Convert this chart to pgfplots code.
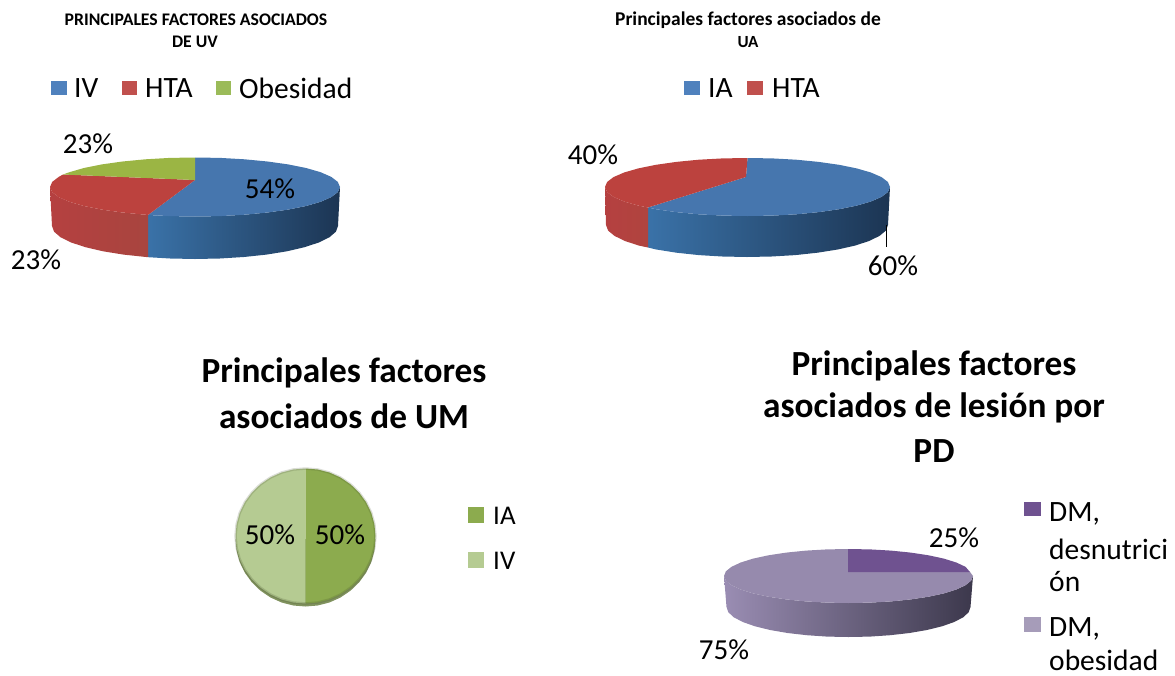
\documentclass[border=0pt]{standalone}
\usepackage{pgfplots}
\pgfplotsset{compat=1.18}
\usepackage{fontspec}
\setmainfont{Carlito}
\definecolor{bluetop}{HTML}{4676AE}
\definecolor{redtop}{HTML}{BC423E}
\definecolor{greentop}{HTML}{9BB544}
\definecolor{legblue}{HTML}{4F81BD}
\definecolor{legred}{HTML}{C0504D}
\definecolor{leggreen}{HTML}{9BBB59}
\definecolor{olive}{HTML}{8CAB4E}
\definecolor{lolive}{HTML}{B5CB92}
\definecolor{purp}{HTML}{6F5290}
\definecolor{lpurp}{HTML}{968AAD}
\definecolor{sideA}{HTML}{3A72A8}
\definecolor{sideB}{HTML}{34598A}
\definecolor{sideC}{HTML}{1C3553}
\definecolor{redA}{HTML}{B54040}
\definecolor{redB}{HTML}{A8453F}
\definecolor{redC}{HTML}{B0443F}
\definecolor{pA}{HTML}{9A8DB3}
\definecolor{pB}{HTML}{7A6F92}
\definecolor{pC}{HTML}{3C384C}
\newcommand{\fs}[1]{\fontsize{#1}{#1}\selectfont}
\begin{document}
\begin{tikzpicture}
\begin{axis}[
  width=1175pt,height=675pt,scale only axis,hide axis,
  xmin=0,xmax=1175,ymin=0,ymax=675,y dir=reverse,clip=false]
\addplot[draw=none] coordinates {(0,0)(1175,675)};
% ---- Pie 1 (UV): 54 / 23 / 23
\addplot[draw=none,left color=sideA,middle color=sideB,right color=sideC] coordinates {(148,215)(169.8,216.1)(195,216.5)(220.2,216.1)(244.6,214.7)(267.5,212.5)(288.2,209.6)(306.1,206)(320.6,201.8)(331.3,197.1)(337.8,192.1)(340,187)(338,226)(335.9,231.7)(329.4,237.3)(318.8,242.5)(304.5,247.2)(286.9,251.3)(266.5,254.6)(243.9,257)(219.9,258.5)(195,259)(170.1,258.5)(148,257.2)};
\addplot[draw=none,left color=redA,right color=redB] coordinates {(148,215)(145.4,214.7)(122.5,212.5)(101.8,209.6)(83.9,206)(69.4,201.8)(58.7,197.1)(52.2,192.1)(50,187)(52,226)(54.1,231.7)(60.6,237.3)(71.2,242.5)(85.5,247.2)(103.1,251.3)(123.5,254.6)(146.1,257)(148,257.2)};
\addplot[draw=none,fill=bluetop] coordinates {(195,180)(195,157.5)(220.2,157.9)(244.6,159.3)(267.5,161.5)(288.2,164.4)(306.1,168)(320.6,172.2)(331.3,176.9)(337.8,181.9)(340,187)(337.8,192.1)(331.3,197.1)(320.6,201.8)(306.1,206)(288.2,209.6)(267.5,212.5)(244.6,214.7)(220.2,216.1)(195,216.5)(169.8,216.1)(148,215)};
\addplot[draw=none,fill=redtop] coordinates {(195,180)(148,215)(145.4,214.7)(122.5,212.5)(101.8,209.6)(83.9,206)(69.4,201.8)(58.7,197.1)(52.2,192.1)(50,187)(52.2,181.9)(58.7,176.9)(63,174.5)};
\addplot[draw=none,fill=greentop] coordinates {(195,180)(63,174.5)(69.4,172.2)(83.9,168)(101.8,164.4)(122.5,161.5)(145.4,159.3)(169.8,157.9)(195,157.5)};
% ---- Pie 2 (UA): 60 / 40
\addplot[draw=none,left color=sideA,middle color=sideB,right color=sideC] coordinates {(648,207.5)(655.9,209.2)(676.2,212.1)(698.8,214.3)(722.7,215.6)(747.5,216)(772.3,215.6)(796.2,214.3)(818.8,212.1)(839.1,209.2)(856.7,205.6)(870.9,201.5)(881.5,196.9)(887.9,192)(890,187)(888,225)(885.9,230.6)(879.5,235.9)(869.1,241)(855,245.6)(837.7,249.5)(817.5,252.7)(795.2,255.1)(771.5,256.5)(747,257)(722.5,256.5)(698.8,255.1)(676.5,252.7)(656.3,249.5)(648,247.5)};
\addplot[draw=none,left color=redA,right color=redC] coordinates {(648,207.5)(638.3,205.6)(624.1,201.5)(613.5,196.9)(607.1,192)(605,187)(606,225)(608.1,230.6)(614.5,235.9)(624.9,241)(639,245.6)(648,247.5)};
\addplot[draw=none,fill=bluetop] coordinates {(746,177)(747.5,158)(772.3,158.4)(796.2,159.7)(818.8,161.9)(839.1,164.8)(856.7,168.4)(870.9,172.5)(881.5,177.1)(887.9,182)(890,187)(887.9,192)(881.5,196.9)(870.9,201.5)(856.7,205.6)(839.1,209.2)(818.8,212.1)(796.2,214.3)(772.3,215.6)(747.5,216)(722.7,215.6)(698.8,214.3)(676.2,212.1)(655.9,209.2)(648,207.5)};
\addplot[draw=none,fill=redtop] coordinates {(746,177)(648,207.5)(638.3,205.6)(624.1,201.5)(613.5,196.9)(607.1,192)(605,187)(607.1,182)(613.5,177.1)(624.1,172.5)(638.3,168.4)(655.9,164.8)(676.2,161.9)(698.8,159.7)(722.7,158.4)(747.5,158)};
\addplot[black,line width=0.8pt] coordinates {(886.5,225)(886.5,246.5)};
% ---- Pie 3 (UM): 50 / 50
\addplot[draw=none,fill=black!30!olive!80!white] coordinates {(235.5,539)(236.6,550.7)(239.7,562.1)(244.9,572.8)(251.9,582.4)(260.5,590.7)(270.5,597.5)(281.6,602.5)(293.3,605.5)(305.5,606.5)(317.7,605.5)(329.4,602.5)(340.5,597.5)(350.5,590.7)(359.1,582.4)(366.1,572.8)(371.3,562.1)(374.4,550.7)(375.5,539)};
\addplot[draw=none,fill=lolive] coordinates {(305.5,468.5)(293.3,469.5)(281.6,472.5)(270.5,477.5)(260.5,484.3)(251.9,492.6)(244.9,502.2)(239.7,512.9)(236.6,524.3)(235.5,536)(236.6,547.7)(239.7,559.1)(244.9,569.8)(251.9,579.4)(260.5,587.7)(270.5,594.5)(281.6,599.5)(293.3,602.5)(305.5,603.5)};
\addplot[draw=none,fill=olive] coordinates {(305.5,468.5)(317.7,469.5)(329.4,472.5)(340.5,477.5)(350.5,484.3)(359.1,492.6)(366.1,502.2)(371.3,512.9)(374.4,524.3)(375.5,536)(374.4,547.7)(371.3,559.1)(366.1,569.8)(359.1,579.4)(350.5,587.7)(340.5,594.5)(329.4,599.5)(317.7,602.5)(305.5,603.5)};
\addplot[black!60!olive,opacity=0.18,line width=2.5pt] coordinates {(305.5,468.5)(317.7,469.5)(329.4,472.5)(340.5,477.5)(350.5,484.3)(359.1,492.6)(366.1,502.2)(371.3,512.9)(374.4,524.3)(375.5,536)(374.4,547.7)(371.3,559.1)(366.1,569.8)(359.1,579.4)(350.5,587.7)(340.5,594.5)(329.4,599.5)(317.7,602.5)(305.5,603.5)(293.3,602.5)(281.6,599.5)(270.5,594.5)(260.5,587.7)(251.9,579.4)(244.9,569.8)(239.7,559.1)(236.6,547.7)(235.5,536)(236.6,524.3)(239.7,512.9)(244.9,502.2)(251.9,492.6)(260.5,484.3)(270.5,477.5)(281.6,472.5)(293.3,469.5)(305.5,468.5)};
% ---- Pie 4 (PD): 25 / 75
\addplot[draw=none,left color=pA,middle color=pB,right color=pC] coordinates {(724,576)(725.9,580.7)(731.5,585.2)(740.7,589.5)(753.1,593.4)(768.4,596.7)(786.2,599.4)(805.9,601.4)(826.8,602.6)(848.5,603)(870.2,602.6)(891.1,601.4)(910.8,599.4)(928.6,596.7)(943.9,593.4)(956.3,589.5)(965.5,585.2)(971.1,580.7)(973,576)(970.5,607)(968.7,612.2)(963.2,617.3)(954.2,622)(942,626.3)(926.9,630)(909.5,633)(890.2,635.2)(869.7,636.6)(848.5,637)(827.3,636.6)(806.8,635.2)(787.5,633)(770.1,630)(755,626.3)(742.8,622)(733.8,617.3)(728.3,612.2)(726.5,607)};
\addplot[draw=none,fill=lpurp] coordinates {(848,572)(970,572)(973,576)(971.1,580.7)(965.5,585.2)(956.3,589.5)(943.9,593.4)(928.6,596.7)(910.8,599.4)(891.1,601.4)(870.2,602.6)(848.5,603)(826.8,602.6)(805.9,601.4)(786.2,599.4)(768.4,596.7)(753.1,593.4)(740.7,589.5)(731.5,585.2)(725.9,580.7)(724,576)(725.9,571.3)(731.5,566.8)(740.7,562.5)(753.1,558.6)(768.4,555.3)(786.2,552.6)(805.9,550.6)(826.8,549.4)(848,549)};
\addplot[draw=none,fill=purp] coordinates {(848,572)(848,549)(870.2,549.4)(891.1,550.6)(910.8,552.6)(928.6,555.3)(943.9,558.6)(956.3,562.5)(965.5,566.8)(970,572)};
% ---- legend keys
\addplot[draw=none,fill=legblue] coordinates {(51,81)(67,81)(67,95)(51,95)};
\addplot[draw=none,fill=legred] coordinates {(122,81)(137,81)(137,95)(122,95)};
\addplot[draw=none,fill=leggreen] coordinates {(216,81)(231,81)(231,95)(216,95)};
\addplot[draw=none,fill=legblue] coordinates {(684,81)(700,81)(700,95)(684,95)};
\addplot[draw=none,fill=legred] coordinates {(747,81)(763,81)(763,95)(747,95)};
\addplot[draw=none,fill=olive] coordinates {(468,507)(484,507)(484,523)(468,523)};
\addplot[draw=none,fill=lolive] coordinates {(468,552)(484,552)(484,568)(468,568)};
\addplot[draw=none,fill=purp] coordinates {(1024,502)(1041,502)(1041,516)(1024,516)};
\addplot[draw=none,fill=lpurp!85!white] coordinates {(1024,617)(1041,617)(1041,632)(1024,632)};
% ---- titles
\node[font=\fs{17.7}\bfseries,inner sep=0pt] at (196,20) {PRINCIPALES FACTORES ASOCIADOS};
\node[font=\fs{17.7}\bfseries,inner sep=0pt] at (195,42) {DE UV};
\node[font=\fs{19.5}\bfseries,inner sep=0pt] at (748,20) {Principales factores asociados de};
\node[font=\fs{17}\bfseries,inner sep=0pt] at (748,42) {UA};
\node[font=\fs{35.3}\bfseries,inner sep=0pt] at (344,373) {Principales factores};
\node[font=\fs{35.3}\bfseries,inner sep=0pt] at (344,416) {asociados de UM};
\node[font=\fs{35.3}\bfseries,inner sep=0pt] at (934,366) {Principales factores};
\node[font=\fs{35.3}\bfseries,inner sep=0pt] at (934,408) {asociados de lesión por};
\node[font=\fs{35.3}\bfseries,inner sep=0pt] at (934,451) {PD};
% ---- legend text
\node[font=\fs{29.5},anchor=west,inner sep=0pt] at (74,88) {IV};
\node[font=\fs{29.5},anchor=west,inner sep=0pt] at (145,88) {HTA};
\node[font=\fs{29.5},anchor=west,inner sep=0pt] at (239,88) {Obesidad};
\node[font=\fs{29.5},anchor=west,inner sep=0pt] at (708,88) {IA};
\node[font=\fs{29.5},anchor=west,inner sep=0pt] at (772,88) {HTA};
\node[font=\fs{27},anchor=west,inner sep=0pt] at (493,516) {IA};
\node[font=\fs{27},anchor=west,inner sep=0pt] at (493,561) {IV};
\node[font=\fs{29.5},anchor=west,inner sep=0pt] at (1049,514) {DM,};
\node[font=\fs{29.5},anchor=west,inner sep=0pt] at (1049,549) {desnutrici};
\node[font=\fs{29.5},anchor=west,inner sep=0pt] at (1049,582) {ón};
\node[font=\fs{29.5},anchor=west,inner sep=0pt] at (1049,629) {DM,};
\node[font=\fs{29.5},anchor=west,inner sep=0pt] at (1049,660) {obesidad};
% ---- data labels
\node[font=\fs{29},inner sep=0pt] at (88,144) {23\%};
\node[font=\fs{29},inner sep=0pt] at (270,189) {54\%};
\node[font=\fs{29},inner sep=0pt] at (36,260) {23\%};
\node[font=\fs{29},inner sep=0pt] at (593,155) {40\%};
\node[font=\fs{29},inner sep=0pt] at (893,266) {60\%};
\node[font=\fs{29},inner sep=0pt] at (270,535) {50\%};
\node[font=\fs{29},inner sep=0pt] at (340,535) {50\%};
\node[font=\fs{29},inner sep=0pt] at (954,538) {25\%};
\node[font=\fs{29},inner sep=0pt] at (724,650) {75\%};
\end{axis}
\end{tikzpicture}
\end{document}
